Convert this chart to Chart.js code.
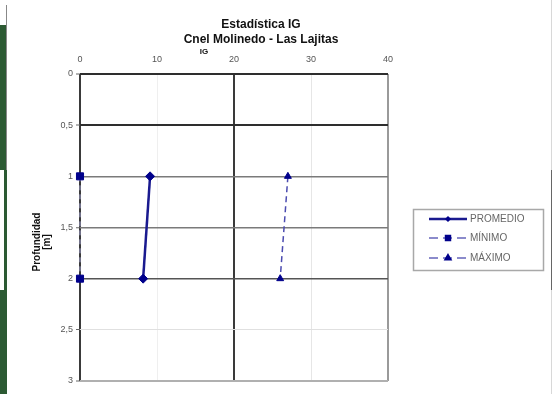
<!DOCTYPE html>
<html>
<head>
<meta charset="utf-8">
<script src="https://cdn.jsdelivr.net/npm/chart.js@4/dist/chart.umd.min.js"></script>
<style>
  html, body { margin: 0; padding: 0; background: #fff; }
  #wrap { position: relative; width: 553px; height: 394px; overflow: hidden; }
  canvas { position: absolute; left: 0; top: 0; }
  .deco { position: absolute; }
</style>
</head>
<body>
<div id="wrap">
  <canvas id="c" width="553" height="394"></canvas>
  <div class="deco" style="left:0;top:25px;width:7px;height:145px;background:#2c5a33;"></div>
  <div class="deco" style="left:0;top:170px;width:7px;height:120px;background:#2c5a33;"></div>
  <div class="deco" style="left:0;top:170px;width:4px;height:120px;background:#ffffff;"></div>
  <div class="deco" style="left:0;top:290px;width:7px;height:104px;background:#2c5a33;"></div>
  <div class="deco" style="left:6px;top:5px;width:1px;height:165px;background:#888;"></div>
  <div class="deco" style="left:551px;top:0;width:1px;height:394px;background:#d8d8d8;"></div>
  <div class="deco" style="left:551px;top:170px;width:1px;height:120px;background:#666;"></div>
</div>
<script>
const titleLines = ['Estadística IG', 'Cnel Molinedo - Las Lajitas'];
const xAxisTitle = 'IG';
const yAxisTitle = ['Profundidad', '[m]'];
const depths = [1, 2];
const promedio = [9.1, 8.2];
const minimo = [0, 0];
const maximo = [27.0, 26.0];
const seriesNames = ['PROMEDIO', 'MÍNIMO', 'MÁXIMO'];
const xTicks = [0, 10, 20, 30, 40];
const yTicks = ['0', '0,5', '1', '1,5', '2', '2,5', '3'];

function pts(xs) { return xs.map((x, i) => ({ x: x, y: depths[i] })); }

const xGridColor = { 0: '#3a3a3a', 10: '#efefef', 20: '#3a3a3a', 30: '#e6e6e6', 40: '#9a9a9a' };
const xGridWidth = { 0: 2, 10: 1, 20: 2, 30: 1, 40: 2 };
const yGridColor = { 0: '#2e2e2e', 0.5: '#2e2e2e', 1: '#7a7a7a', 1.5: '#7a7a7a', 2: '#555', 2.5: '#e0e0e0', 3: '#b0b0b0' };
const yGridWidth = { 0: 2, 0.5: 2, 1: 1.5, 1.5: 1.5, 2: 1.5, 2.5: 1, 3: 2 };

const FONT = '"Liberation Sans", Arial, sans-serif';

const decoPlugin = {
  id: 'deco',
  afterDraw(chart) {
    const ctx = chart.ctx;
    ctx.save();
    ctx.fillStyle = '#111';
    ctx.textAlign = 'center';
    ctx.textBaseline = 'middle';
    ctx.font = 'bold 12px ' + FONT;
    ctx.fillText(titleLines[0], 261, 25);
    ctx.fillText(titleLines[1], 261, 40);
    ctx.font = 'bold 8px ' + FONT;
    ctx.fillText(xAxisTitle, 204, 52);
    ctx.font = 'bold 10px ' + FONT;
    ctx.translate(37, 242);
    ctx.rotate(-Math.PI / 2);
    ctx.fillText(yAxisTitle[0], 0, 0);
    ctx.fillText(yAxisTitle[1], 0, 10);
    ctx.restore();

    // legend
    ctx.save();
    ctx.strokeStyle = '#a8a8a8';
    ctx.lineWidth = 1.5;
    ctx.strokeRect(413.5, 209.5, 130, 61);
    const rows = [219, 238, 258];
    chart.data.datasets.forEach((ds, i) => {
      const y = rows[i];
      ctx.save();
      ctx.strokeStyle = i === 0 ? ds.borderColor : '#6666bb';
      ctx.lineWidth = i === 0 ? 2.5 : 1.5;
      ctx.setLineDash(i === 0 ? [] : [9, 5]);
      ctx.beginPath();
      ctx.moveTo(429, y);
      ctx.lineTo(467, y);
      ctx.stroke();
      ctx.restore();
      ctx.save();
      ctx.fillStyle = ds.pointBackgroundColor;
      ctx.strokeStyle = ds.pointBorderColor;
      Chart.helpers.drawPoint(ctx, {
        pointStyle: ds.pointStyle, radius: i === 0 ? 2 : 3.5, rotation: 0, borderWidth: 1
      }, 448, y);
      ctx.restore();
      ctx.save();
      ctx.fillStyle = '#666';
      ctx.font = '10px ' + FONT;
      ctx.textAlign = 'left';
      ctx.textBaseline = 'middle';
      ctx.fillText(ds.label, 470, y);
      ctx.restore();
    });
    ctx.restore();
  }
};

new Chart(document.getElementById('c'), {
  type: 'scatter',
  data: {
    datasets: [
      {
        label: seriesNames[0], data: pts(promedio), showLine: true, clip: false,
        borderColor: '#1a1a8f', borderWidth: 2.5,
        pointStyle: 'rectRot', pointRadius: 4.5, pointBorderWidth: 1,
        pointBackgroundColor: '#00008b', pointBorderColor: '#00008b'
      },
      {
        label: seriesNames[1], data: pts(minimo), showLine: true, clip: false,
        borderColor: '#a8a8d8', borderWidth: 1, borderDash: [5, 4],
        pointStyle: 'rect', pointRadius: 5, pointBorderWidth: 1,
        pointBackgroundColor: '#00008b', pointBorderColor: '#00008b'
      },
      {
        label: seriesNames[2], data: pts(maximo), showLine: true, clip: false,
        borderColor: '#4b4bb0', borderWidth: 1.5, borderDash: [6, 4],
        pointStyle: 'triangle', pointRadius: 4, pointBorderWidth: 1,
        pointBackgroundColor: '#00008b', pointBorderColor: '#00008b'
      }
    ]
  },
  options: {
    responsive: false,
    animation: false,
    layout: { padding: { left: 0, top: 0, right: 165, bottom: 13 } },
    plugins: { legend: { display: false }, title: { display: false }, tooltip: { enabled: false } },
    scales: {
      x: {
        type: 'linear', position: 'top', min: 0, max: 40,
        afterFit(s) { s.height = 74; },
        afterBuildTicks(s) { s.ticks = xTicks.map(v => ({ value: v })); },
        ticks: { font: { size: 9, family: FONT }, color: '#555', padding: 9, maxRotation: 0 },
        grid: {
          drawTicks: false,
          color: c => xGridColor[c.tick.value] || '#ccc',
          lineWidth: c => xGridWidth[c.tick.value] || 1
        },
        border: { display: false }
      },
      y: {
        type: 'linear', min: 0, max: 3, reverse: true,
        afterFit(s) { s.width = 80; },
        afterBuildTicks(s) { s.ticks = yTicks.map((t, i) => ({ value: i * 0.5 })); },
        ticks: {
          font: { size: 9, family: FONT }, color: '#555', padding: 3,
          callback: (v, i) => yTicks[i]
        },
        grid: {
          tickLength: 4, tickColor: '#666', tickWidth: 1,
          color: c => yGridColor[c.tick.value] || '#ccc',
          lineWidth: c => yGridWidth[c.tick.value] || 1
        },
        border: { display: false }
      }
    }
  },
  plugins: [decoPlugin]
});
</script>
</body>
</html>
